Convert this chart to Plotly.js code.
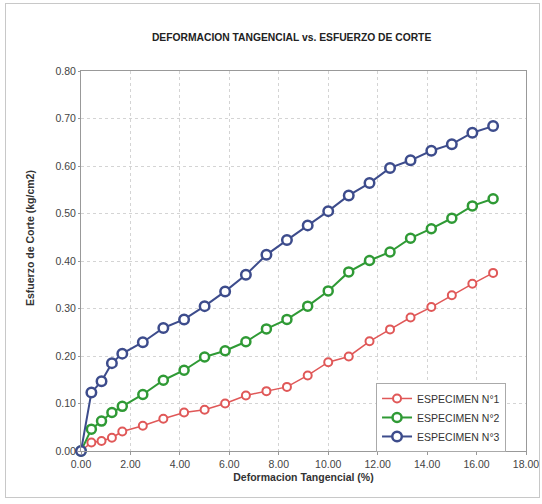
<!DOCTYPE html>
<html><head><meta charset="utf-8">
<script src="https://cdn.plot.ly/plotly-3.0.1.min.js"></script>
<style>
html,body{margin:0;padding:0;background:#fff;}
#wrap{position:relative;width:542px;height:504px;}
#chart{width:542px;height:504px;}
#frame{position:absolute;left:5px;top:3px;width:533px;height:493px;border:1px solid #c8c8c8;pointer-events:none;}
</style></head>
<body><div id="wrap"><div id="chart"></div><div id="frame"></div></div>
<script>
const deformacion = [0, 0.42, 0.83, 1.25, 1.67, 2.50, 3.33, 4.17, 5.00, 5.83, 6.67, 7.50, 8.33, 9.17, 10.00, 10.83, 11.67, 12.50, 13.33, 14.17, 15.00, 15.83, 16.67];
const especimen1 = [0, 0.018, 0.021, 0.028, 0.041, 0.053, 0.068, 0.081, 0.087, 0.100, 0.117, 0.126, 0.135, 0.159, 0.187, 0.199, 0.231, 0.256, 0.281, 0.303, 0.328, 0.352, 0.375];
const especimen2 = [0, 0.046, 0.063, 0.081, 0.094, 0.119, 0.149, 0.170, 0.198, 0.211, 0.230, 0.257, 0.277, 0.305, 0.337, 0.377, 0.401, 0.419, 0.448, 0.468, 0.490, 0.516, 0.531];
const especimen3 = [0, 0.123, 0.147, 0.185, 0.205, 0.229, 0.259, 0.277, 0.305, 0.336, 0.371, 0.413, 0.444, 0.475, 0.505, 0.538, 0.564, 0.596, 0.612, 0.632, 0.646, 0.670, 0.684];
const seriesNames = ["ESPECIMEN N°1", "ESPECIMEN N°2", "ESPECIMEN N°3"];
const xTicks = [0, 2, 4, 6, 8, 10, 12, 14, 16, 18];
const yTicks = [0, 0.1, 0.2, 0.3, 0.4, 0.5, 0.6, 0.7, 0.8];

function tr(y, name, color, msize, lw){
  return {x: deformacion, y: y, name: name, type: 'scatter', mode: 'lines+markers', cliponaxis: false,
    line: {color: color, width: lw},
    marker: {symbol: 'circle', size: msize, color: '#ffffff', line: {color: color, width: lw + 0.5}}};
}
const data = [
  tr(especimen1, seriesNames[0], '#e05858', 8, 1.5),
  tr(especimen2, seriesNames[1], '#2f9a35', 9, 2),
  tr(especimen3, seriesNames[2], '#3d4c8c', 9.5, 2)
];
const fam = 'Liberation Sans, Arial, sans-serif';
const layout = {
  width: 542, height: 504,
  margin: {l: 81, r: 16, t: 71, b: 53},
  paper_bgcolor: '#ffffff', plot_bgcolor: '#ffffff',
  font: {family: fam, size: 10, color: '#333'},
  title: {text: '<b>DEFORMACION TANGENCIAL vs. ESFUERZO DE CORTE</b>', font: {family: fam, size: 10.3, color: '#222'}, x: 0.538, xanchor: 'center', y: 0.925, yanchor: 'middle'},
  xaxis: {range: [0, 18], tickvals: xTicks, ticktext: xTicks.map(v => v.toFixed(2)),
    showgrid: true, gridcolor: '#d4d4d4', griddash: 'dot', gridwidth: 1,
    showline: true, linecolor: '#999', mirror: true, zeroline: false,
    ticks: 'outside', ticklen: 3, tickcolor: '#999',
    tickfont: {family: fam, size: 10.5, color: '#444'},
    title: {text: '<b>Deformacion Tangencial (%)</b>', font: {family: fam, size: 10.5, color: '#333'}, standoff: 5}},
  yaxis: {range: [0, 0.8], tickvals: yTicks, ticktext: yTicks.map(v => v.toFixed(2)),
    showgrid: true, gridcolor: '#d4d4d4', griddash: 'dot', gridwidth: 1,
    showline: true, linecolor: '#999', mirror: true, zeroline: false,
    ticks: 'outside', ticklen: 2, tickcolor: '#999',
    tickfont: {family: fam, size: 10.5, color: '#444'}},
  annotations: [{text: '<b>Esfuerzo de Corte (kg/cm2)</b>', xref: 'paper', yref: 'paper', x: -0.115, y: 0.56,
    xanchor: 'center', yanchor: 'middle', textangle: -90, showarrow: false,
    font: {family: fam, size: 10.5, color: '#333'}}],
  legend: {x: 0.663, y: 0.179, xanchor: 'left', yanchor: 'top', bgcolor: '#ffffff', bordercolor: '#aaa', borderwidth: 1,
    font: {family: fam, size: 10.5, color: '#333'}, itemwidth: 30, tracegroupgap: 0},
  showlegend: true
};
Plotly.newPlot('chart', data, layout, {displayModeBar: false, staticPlot: true});
</script></body></html>
